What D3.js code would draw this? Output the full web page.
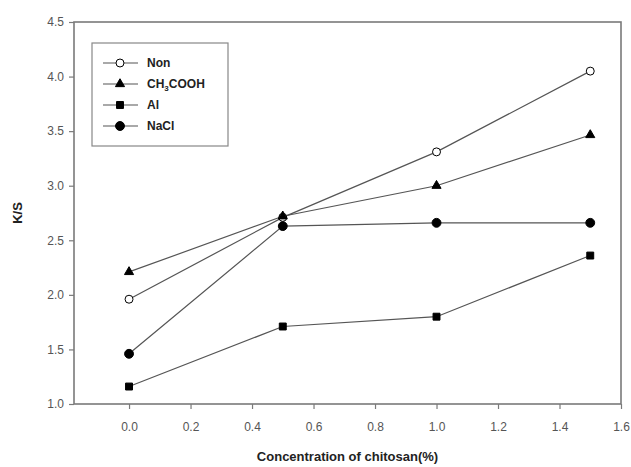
<!DOCTYPE html>
<html>
<head>
<script src="https://d3js.org/d3.v7.min.js"></script>
<style>
  body { margin: 0; background: #fff; }
  text { font-family: "Liberation Sans", Arial, sans-serif; }
</style>
</head>
<body>
<script>
// data
var concentrations = [0.0, 0.5, 1.0, 1.5];
var seriesNames = ["Non", "CH3COOH", "Al", "NaCl"];
var nonValues = [1.96, 2.71, 3.31, 4.05];
var aceticValues = [2.21, 2.72, 3.00, 3.465];
var alValues = [1.16, 1.71, 1.80, 2.36];
var naclValues = [1.46, 2.63, 2.66, 2.66];
var xTicks = [0.0, 0.2, 0.4, 0.6, 0.8, 1.0, 1.2, 1.4, 1.6];
var yTicks = [1.0, 1.5, 2.0, 2.5, 3.0, 3.5, 4.0, 4.5];

var w = 631, h = 467;
var pLeft = 74, pRight = 621, pTop = 22, pBottom = 404;

var svg = d3.select("body").append("svg")
  .attr("width", w)
  .attr("height", h);

var x = d3.scaleLinear().domain([-0.179, 1.6]).range([pLeft, pRight]);
var y = d3.scaleLinear().domain([1.0, 4.5]).range([pBottom, pTop]);

var axisColor = "#7a7a7a";
var labelColor = "#555";

// frame
svg.append("rect")
  .attr("x", pLeft).attr("y", pTop)
  .attr("width", pRight - pLeft).attr("height", pBottom - pTop)
  .attr("fill", "none")
  .attr("stroke", axisColor)
  .attr("stroke-width", 1.6);

var xAxis = svg.append("g")
  .attr("transform", "translate(0," + pBottom + ")")
  .call(d3.axisBottom(x).tickValues(xTicks).tickFormat(d3.format(".1f")).tickSize(5).tickPadding(13));
var yAxis = svg.append("g")
  .attr("transform", "translate(" + pLeft + ",0)")
  .call(d3.axisLeft(y).tickValues(yTicks).tickFormat(d3.format(".1f")).tickSize(5).tickPadding(5));

[xAxis, yAxis].forEach(function(a) {
  a.select(".domain").remove();
  a.selectAll(".tick line").attr("stroke", axisColor).attr("stroke-width", 1.2);
  a.selectAll(".tick text")
    .attr("fill", labelColor)
    .attr("font-size", "12px")
    .attr("font-family", "Liberation Sans, Arial, sans-serif");
});

svg.append("text")
  .attr("x", (pLeft + pRight) / 2)
  .attr("y", 461)
  .attr("text-anchor", "middle")
  .attr("font-size", "13px")
  .attr("font-weight", "bold")
  .attr("fill", "#222")
  .text("Concentration of chitosan(%)");

svg.append("text")
  .attr("transform", "translate(22," + ((pTop + pBottom) / 2) + ") rotate(-90)")
  .attr("text-anchor", "middle")
  .attr("font-size", "13px")
  .attr("font-weight", "bold")
  .attr("fill", "#222")
  .text("K/S");

var allSeries = [nonValues, aceticValues, alValues, naclValues];
var symbols = [d3.symbolCircle, d3.symbolTriangle, d3.symbolSquare, d3.symbolCircle];
var symSizes = [50, 36, 48, 62];
var fills = ["#fff", "#000", "#000", "#000"];

var line = d3.line()
  .x(function(d, i) { return x(concentrations[i]); })
  .y(function(d) { return y(d); });

allSeries.forEach(function(vals, s) {
  svg.append("path")
    .datum(vals)
    .attr("d", line)
    .attr("fill", "none")
    .attr("stroke", "#555")
    .attr("stroke-width", 1.2);
});

allSeries.forEach(function(vals, s) {
  svg.selectAll(".pt" + s)
    .data(vals)
    .enter()
    .append("path")
    .attr("class", "pt" + s)
    .attr("d", d3.symbol().type(symbols[s]).size(symSizes[s]))
    .attr("transform", function(d, i) {
      return "translate(" + x(concentrations[i]) + "," + y(d) + ")";
    })
    .attr("fill", fills[s])
    .attr("stroke", "#000")
    .attr("stroke-width", 1);
});

// legend
var lg = svg.append("g");
lg.append("rect")
  .attr("x", 92).attr("y", 43)
  .attr("width", 136).attr("height", 103)
  .attr("fill", "#fff")
  .attr("stroke", "#888")
  .attr("stroke-width", 1.2);

var legendY = [63, 84, 105, 126];
seriesNames.forEach(function(name, s) {
  var ly = legendY[s];
  lg.append("line")
    .attr("x1", 103).attr("x2", 138)
    .attr("y1", ly).attr("y2", ly)
    .attr("stroke", "#555")
    .attr("stroke-width", 1.2);
  lg.append("path")
    .attr("d", d3.symbol().type(symbols[s]).size(symSizes[s]))
    .attr("transform", "translate(120," + ly + ")")
    .attr("fill", fills[s])
    .attr("stroke", "#000");
  var t = lg.append("text")
    .attr("x", 147)
    .attr("y", ly + 4)
    .attr("font-size", "12px")
    .attr("font-weight", "bold")
    .attr("fill", "#222");
  if (name === "CH3COOH") {
    t.append("tspan").text("CH");
    t.append("tspan").attr("font-size", "8px").attr("dy", 3).text("3");
    t.append("tspan").attr("dy", -3).text("COOH");
  } else {
    t.text(name);
  }
});
</script>
</body>
</html>
